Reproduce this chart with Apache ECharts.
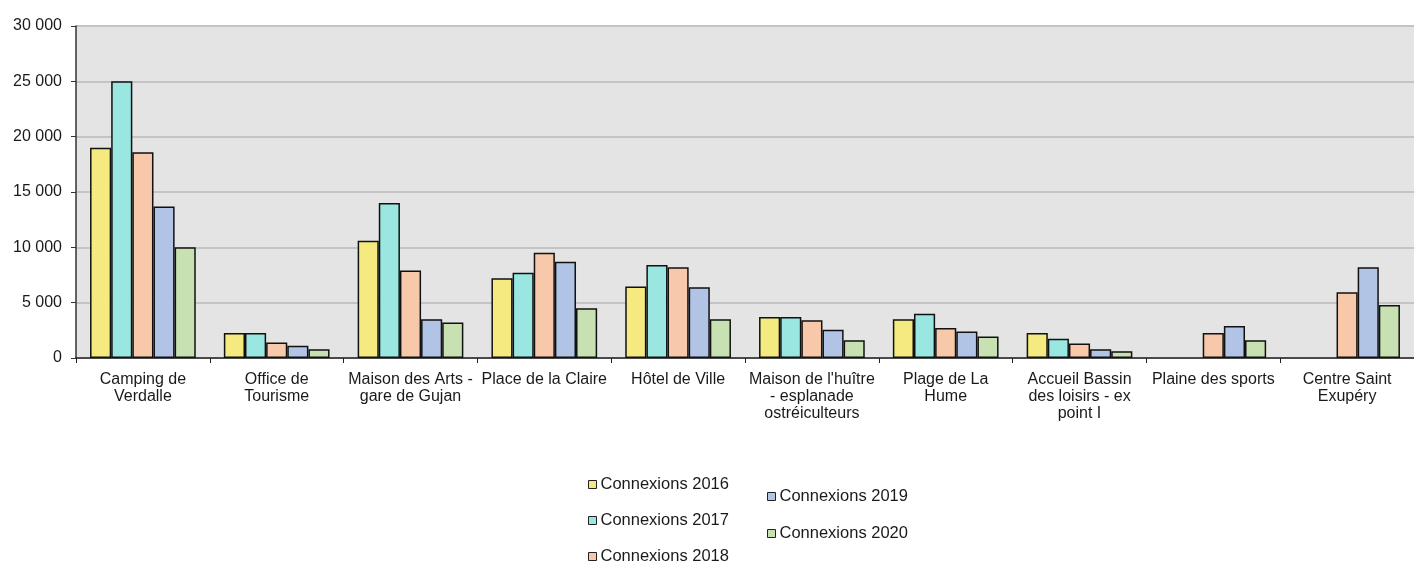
<!DOCTYPE html>
<html>
<head>
<meta charset="utf-8">
<script src="https://cdn.jsdelivr.net/npm/echarts@6/dist/echarts.min.js"></script>
<style>
html,body{margin:0;padding:0;background:#fff;}
#c{width:1414px;height:563px;}
</style>
</head>
<body>
<div id="c"></div>
<script>
const categories = [
  "Camping de\nVerdalle",
  "Office de\nTourisme",
  "Maison des Arts -\ngare de Gujan",
  "Place de la Claire",
  "Hôtel de Ville",
  "Maison de l'huître\n- esplanade\nostréiculteurs",
  "Plage de La\nHume",
  "Accueil Bassin\ndes loisirs - ex\npoint I",
  "Plaine des sports",
  "Centre Saint\nExupéry"
];
const seriesNames = ["Connexions 2016","Connexions 2017","Connexions 2018","Connexions 2019","Connexions 2020"];
const v2016 = [19000, 2250, 10600, 7200, 6450, 3700, 3500, 2250, null, null];
const v2017 = [25000, 2250, 14000, 7700, 8400, 3700, 4000, 1750, null, null];
const v2018 = [18600, 1400, 7900, 9500, 8200, 3400, 2700, 1300, 2250, 5950];
const v2019 = [13700, 1100, 3500, 8700, 6400, 2550, 2400, 800, 2900, 8200];
const v2020 = [10000, 800, 3200, 4500, 3500, 1600, 1950, 600, 1600, 4800];
const yTicks = [0, 5000, 10000, 15000, 20000, 25000, 30000];

const colors = ["#f4ea80", "#9ae7e2", "#f7c9aa", "#b1c4e6", "#c7e1b3"];
const values = [v2016, v2017, v2018, v2019, v2020];

const chart = echarts.init(document.getElementById('c'));
const font = 'Liberation Sans, Arial, sans-serif';

const legendPos = [
  {left: 588, top: 476},
  {left: 588, top: 512},
  {left: 588, top: 548},
  {left: 767, top: 488},
  {left: 767, top: 525}
];

chart.setOption({
  animation: false,
  backgroundColor: '#ffffff',
  textStyle: {fontFamily: font},
  grid: {
    left: 76, right: 0, top: 26, bottom: 205,
    show: true, backgroundColor: '#e4e4e4', borderWidth: 0
  },
  legend: seriesNames.map((n, i) => ({
    data: [n],
    left: legendPos[i].left,
    top: legendPos[i].top,
    padding: 0,
    icon: 'rect',
    itemWidth: 8,
    itemHeight: 8,
    itemGap: 4,
    itemStyle: {borderColor: '#222', borderWidth: 1},
    textStyle: {fontSize: 16.5, color: '#1a1a1a', fontFamily: font, padding: [0, 0, 0, -1]},
    selectedMode: false
  })),
  xAxis: {
    type: 'category',
    data: categories,
    axisLine: {lineStyle: {color: '#222', width: 1.5}},
    axisTick: {show: true, interval: 0, length: 5, lineStyle: {color: '#222', width: 1}},
    axisLabel: {
      interval: 0, fontSize: 16, color: '#1a1a1a', lineHeight: 17, margin: 13,
      fontFamily: font
    },
    splitLine: {show: false}
  },
  yAxis: {
    type: 'value',
    min: yTicks[0], max: yTicks[yTicks.length - 1], interval: 5000,
    axisLine: {show: true, lineStyle: {color: '#333', width: 1.5}},
    axisTick: {show: true, length: 5, lineStyle: {color: '#333'}},
    axisLabel: {
      fontSize: 16, color: '#1a1a1a', margin: 14, fontFamily: font,
      formatter: v => String(v).replace(/\B(?=(\d{3})+(?!\d))/g, ' ')
    },
    splitLine: {show: true, lineStyle: {color: '#c4c4c4', width: 2}}
  },
  series: seriesNames.map((n, i) => ({
    name: n,
    type: 'bar',
    data: values[i],
    barGap: '0%',
    barCategoryGap: '21%',
    itemStyle: {color: colors[i], borderColor: '#111', borderWidth: 1.5}
  }))
});
</script>
</body>
</html>
